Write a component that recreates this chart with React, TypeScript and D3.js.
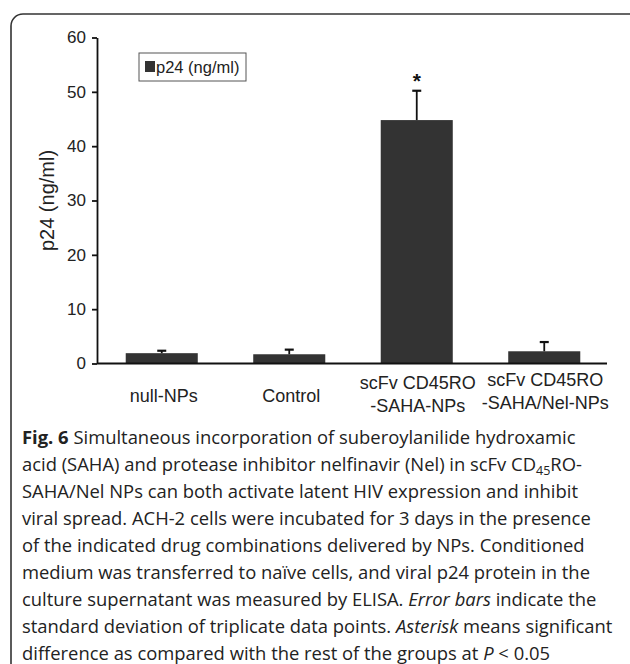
import React, { useEffect, useRef } from "react";
import * as d3 from "d3";

const categories = ["null-NPs", "Control", "scFv CD45RO\n-SAHA-NPs", "scFv CD45RO\n-SAHA/Nel-NPs"];
const values = [1.9, 1.7, 44.8, 2.25];
const errors = [0.45, 0.85, 5.4, 1.7];
const significant = [false, false, true, false];
const yTicks = [0, 10, 20, 30, 40, 50, 60];
const yTitle = "p24 (ng/ml)";
const legendLabel = "p24 (ng/ml)";

type Seg = { t: string; b?: boolean; i?: boolean; sub?: boolean };
const captionLines: Seg[][] = [
  [{ t: "Fig. 6", b: true }, { t: " Simultaneous incorporation of suberoylanilide hydroxamic" }],
  [{ t: "acid (SAHA) and protease inhibitor nelfinavir (Nel) in scFv CD" }, { t: "45", sub: true }, { t: "RO-" }],
  [{ t: "SAHA/Nel NPs can both activate latent HIV expression and inhibit" }],
  [{ t: "viral spread. ACH-2 cells were incubated for 3 days in the presence" }],
  [{ t: "of the indicated drug combinations delivered by NPs. Conditioned" }],
  [{ t: "medium was transferred to naïve cells, and viral p24 protein in the" }],
  [{ t: "culture supernatant was measured by ELISA. " }, { t: "Error bars", i: true }, { t: " indicate the" }],
  [{ t: "standard deviation of triplicate data points. " }, { t: "Asterisk", i: true }, { t: " means significant" }],
  [{ t: "difference as compared with the rest of the groups at " }, { t: "P", i: true }, { t: " < 0.05" }],
];

const W = 630;
const H = 664;
const axisLeftX = 97;
const axisRightX = 607;
const yTop = 37.5;
const yBottom = 363.5;

export default function App() {
  const yAxisRef = useRef<SVGGElement>(null);

  const x = d3
    .scaleBand<string>()
    .domain(categories)
    .range([axisLeftX + 1, axisRightX + 1])
    .paddingInner(0.435)
    .paddingOuter(0.2175);
  const y = d3.scaleLinear().domain([0, 60]).range([yBottom, yTop]);

  const font = "'Liberation Sans', Arial, sans-serif";
  const capFont = "'Open Sans', 'Noto Sans', sans-serif";

  useEffect(() => {
    if (!yAxisRef.current) return;
    const g = d3.select(yAxisRef.current);
    g.selectAll("*").remove();
    g.call(d3.axisLeft(y).tickValues(yTicks).tickSize(5).tickSizeOuter(0).tickPadding(6));
    g.select(".domain").attr("stroke", "#111").attr("stroke-width", 1.8);
    g.selectAll(".tick line").attr("stroke", "#111").attr("stroke-width", 1.8);
    g.selectAll(".tick text")
      .attr("font-family", font)
      .attr("font-size", 17)
      .attr("fill", "#222");
  }, []);

  return (
    <svg
      width={W}
      height={H}
      style={{ position: "absolute", left: 0, top: 0, background: "#fff" }}
    >
      <rect x={11} y={14} width={630} height={700} rx={12} ry={12} fill="none" stroke="#333" strokeWidth={1.6} />

      {/* legend */}
      <rect x={139} y={53} width={107} height={28} fill="#fff" stroke="#555" strokeWidth={1} />
      <rect x={145} y={61} width={10} height={11} fill="#333" />
      <text x={156} y={73} fontFamily={font} fontSize={16.5} fill="#222">
        {legendLabel}
      </text>

      {/* bars */}
      {categories.map((c, i) => {
        const bx = x(c)!;
        const cx = bx + x.bandwidth() / 2;
        const top = y(values[i]);
        const eTop = y(values[i] + errors[i]);
        return (
          <g key={c}>
            <rect x={bx} y={top} width={x.bandwidth()} height={y(0) - top} fill="#333" />
            <line x1={cx} x2={cx} y1={top} y2={eTop} stroke="#111" strokeWidth={1.8} />
            <line x1={cx - 4.5} x2={cx + 4.5} y1={eTop} y2={eTop} stroke="#111" strokeWidth={2.2} />
            {significant[i] && (
              <text x={cx} y={eTop - 3} textAnchor="middle" fontFamily={font} fontSize={21} fontWeight="bold" fill="#111">
                *
              </text>
            )}
          </g>
        );
      })}

      {/* x axis line */}
      <line x1={axisLeftX} x2={axisRightX} y1={y(0)} y2={y(0)} stroke="#111" strokeWidth={1.8} />

      <g ref={yAxisRef} transform={`translate(${axisLeftX},0)`} />

      {/* x labels */}
      {categories.map((c, ci) => {
        const cx = x(c)! + x.bandwidth() / 2;
        const parts = c.split("\n");
        const lift = ci === 3 ? -3 : 0;
        return (
          <text key={c} textAnchor="middle" fontFamily={font} fontSize={18} fill="#222">
            {parts.length === 1 ? (
              <tspan x={cx + 2} y={402}>{parts[0]}</tspan>
            ) : (
              parts.map((p, k) => (
                <tspan key={k} x={cx + 1} y={389 + lift + k * 23}>
                  {p}
                </tspan>
              ))
            )}
          </text>
        );
      })}

      {/* y title */}
      <text
        transform={`translate(54,${(yTop + yBottom) / 2}) rotate(-90)`}
        textAnchor="middle"
        fontFamily={font}
        fontSize={20}
        fill="#222"
      >
        {yTitle}
      </text>

      {/* caption */}
      {captionLines.map((line, li) => (
        <text
          key={li}
          x={22}
          y={443.5 + li * 27.1}
          fontFamily={capFont}
          fontSize={18.4}
          fill="#222"
          style={{ fontVariantLigatures: "none" }}
        >
          {line.map((s, si) => (
            <tspan
              key={si}
              fontWeight={s.b ? "bold" : undefined}
              fontStyle={s.i ? "italic" : undefined}
              fontSize={s.sub ? 12.5 : undefined}
              dy={s.sub ? 4 : si > 0 && line[si - 1].sub ? -4 : undefined}
            >
              {s.t}
            </tspan>
          ))}
        </text>
      ))}
    </svg>
  );
}
